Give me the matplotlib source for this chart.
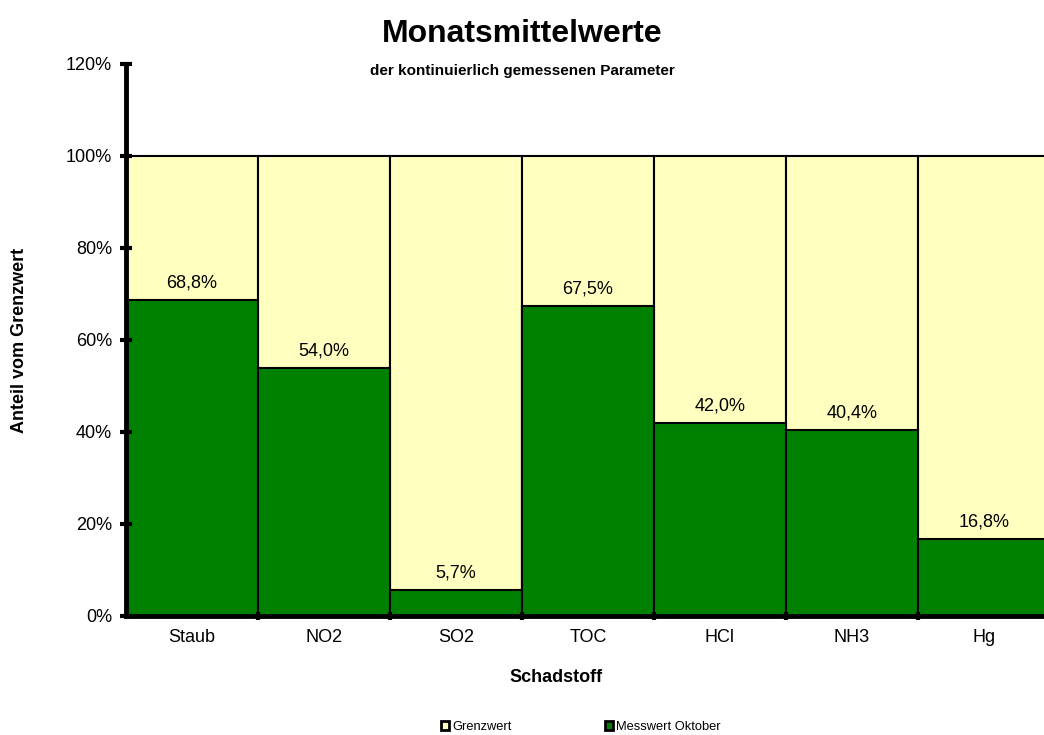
import matplotlib
matplotlib.use("Agg")
import matplotlib.pyplot as plt
from matplotlib.patches import Patch

plt.rcParams['font.family'] = ['Liberation Sans', 'DejaVu Sans']

# Monatsmittelwerte in % vom Grenzwert
schadstoffe = ['Staub', 'NO2', 'SO2', 'TOC', 'HCl', 'NH3', 'Hg']
messwert = [68.8, 54.0, 5.7, 67.5, 42.0, 40.4, 16.8]
grenzwert = [100, 100, 100, 100, 100, 100, 100]
yticks = [0, 20, 40, 60, 80, 100, 120]

gelb = '#FFFFC0'
gruen = '#008000'

fig = plt.figure(figsize=(10.44, 7.35), dpi=100)
ax = fig.add_axes([126 / 1044, 119 / 735, 924 / 1044, 552 / 735])

pos = list(range(len(schadstoffe)))
ax.bar(pos, grenzwert, width=1.0, color=gelb, edgecolor='black', linewidth=1.5)
ax.bar(pos, messwert, width=1.0, color=gruen, edgecolor='black', linewidth=1.5)

# Werte über den grünen Balken
for p, v in zip(pos, messwert):
    ax.annotate(f'{v:.1f}%'.replace('.', ','), (p, v), xytext=(0, 6),
                textcoords='offset points', ha='center', va='bottom', fontsize=13)

ax.set_xlim(-0.5, len(schadstoffe) - 0.5)
ax.set_ylim(0, 120)
ax.set_yticks(yticks)
ax.set_yticklabels([f'{t}%' for t in yticks], fontsize=13)
ax.set_xticks(pos)
ax.set_xticklabels(schadstoffe, fontsize=13)
ax.set_xticks([p + 0.5 for p in pos[:-1]], minor=True)
ax.tick_params(axis='x', which='major', length=0, pad=9)
ax.tick_params(axis='x', which='minor', length=6, width=3, direction='inout')
ax.tick_params(axis='y', length=8, width=3, direction='inout', pad=6)

for s in ['top', 'right']:
    ax.spines[s].set_visible(False)
ax.spines['left'].set_linewidth(3.5)
ax.spines['bottom'].set_linewidth(3.5)

ax.set_xlabel('Schadstoff', fontsize=13, fontweight='bold')
ax.xaxis.set_label_coords((556 - 126) / 924, (616 - 669) / 552)
ax.set_ylabel('Anteil vom Grenzwert', fontsize=13, fontweight='bold')
ax.yaxis.set_label_coords((28 - 126) / 924, (616 - 340) / 552)

fig.text(0.5, 1 - 34 / 735, 'Monatsmittelwerte', ha='center', va='center',
         fontsize=23, fontweight='bold')
fig.text(0.5, 1 - 71 / 735, 'der kontinuierlich gemessenen Parameter', ha='center',
         va='center', fontsize=11, fontweight='bold')

handles = [Patch(facecolor=gelb, edgecolor='black', linewidth=2),
           Patch(facecolor=gruen, edgecolor='black', linewidth=2)]
fig.legend(handles, ['Grenzwert', 'Messwert Oktober'], loc='center',
           bbox_to_anchor=(581 / 1044, 1 - 727 / 735), ncol=2, frameon=False,
           fontsize=9.3, handlelength=0.6, handleheight=0.6, handletextpad=0.3,
           columnspacing=7.2, borderpad=0)

fig.savefig('out.png', dpi=100)
